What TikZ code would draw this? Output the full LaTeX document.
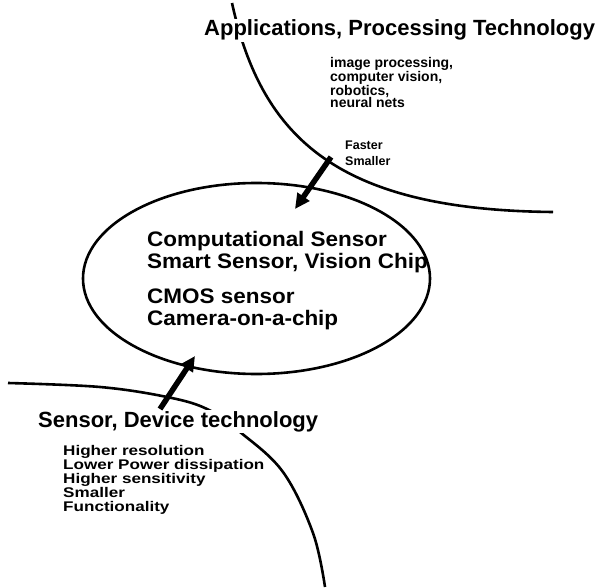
\documentclass[tikz,border=0pt]{standalone}
\usepackage{fontspec}
\setmainfont{Liberation Sans}
\newfontfamily\widesans[FakeStretch=1.22]{Liberation Sans}
\newfontfamily\chipsans[FakeStretch=1.07]{Liberation Sans}
\usetikzlibrary{shapes.geometric,arrows.meta}

\tikzset{
  bigtitle/.style={font=\bfseries\fontsize{22}{24}\selectfont, anchor=base west, inner sep=1pt, fill=white},
  chiptext/.style={font=\chipsans\bfseries\fontsize{21}{22}\selectfont, align=left, anchor=base west, inner sep=0pt},
  notelist/.style={font=\bfseries\fontsize{14}{12.5}\selectfont, align=left, anchor=base west, inner sep=0pt},
  widelist/.style={font=\widesans\bfseries\fontsize{14}{14}\selectfont, align=left, anchor=base west, inner sep=0pt},
  boundary/.style={line width=2.6pt},
  pusharrow/.style={line width=5.5pt, -{Triangle[length=15pt,width=14pt]}},
}

\begin{document}
\begin{tikzpicture}[x=1pt,y=-1pt]
  \useasboundingbox (0,0) rectangle (599,588);

  % the three areas
  \draw[boundary] (232,3) .. controls (262,140) and (340,210) .. (553,212);
  \draw[boundary] plot[smooth, tension=0.6] coordinates
    {(8,383) (100,387) (167,397) (207,409) (240,432) (283,472) (313,533) (325,587)};
  \node[boundary, draw, ellipse, minimum width=347pt, minimum height=191pt] (sensor) at (256.5,278.5) {};

  % titles and texts (multi-line nodes sit on their last line)
  \node[bigtitle] (apptitle) at (203,36) {Applications, Processing Technology};
  \node[notelist] (applist) at (330,108) {image processing,\\computer vision,\\robotics,\\neural nets};
  \node[notelist, font=\bfseries\fontsize{12.5}{17}\selectfont] (appgain) at (345,166) {Faster\\Smaller};

  \node[chiptext] (chipnames) at (147,325) {Computational Sensor\\Smart Sensor, Vision Chip\\[13pt]CMOS sensor\\Camera-on-a-chip};

  \node[bigtitle] (devtitle) at (37,427) {Sensor, Device technology};
  \node[widelist] (devlist) at (63,511) {Higher resolution\\Lower Power dissipation\\Higher sensitivity\\Smaller\\Functionality};

  % arrows into the chip
  \coordinate (apptail) at (331,157);
  \coordinate (apptip) at (295,209);
  \coordinate (devtail) at (160,409);
  \coordinate (devtip) at (195,356);
  \draw[pusharrow] (apptail) -- (apptip);
  \draw[pusharrow] (devtail) -- (devtip);
\end{tikzpicture}
\end{document}
